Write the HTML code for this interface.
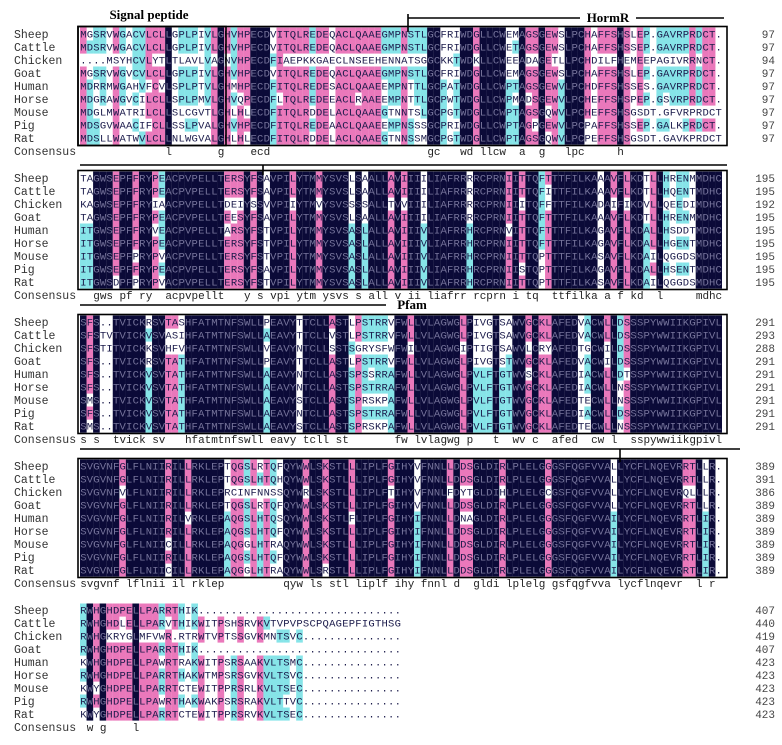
<!DOCTYPE html>
<html><head><meta charset="utf-8">
<style>
html,body{margin:0;padding:0;background:#fff;}
svg{display:block;}
</style></head>
<body>
<svg id="fig" width="782" height="745" xmlns="http://www.w3.org/2000/svg"></svg>
<script>
const species = ["Sheep","Cattle","Chicken","Goat","Human","Horse","Mouse","Pig","Rat"];
const block1 = [
"MGSRVWGACVLCLLGPLPIVLGHVHPECDVITQLREDEQACLQAAEGMPNSTLGCFRIWDGLLCWEMAGSGEWSLPCHAFFSHSLEP.GAVRPRDCT",
"MDSRVWGACVLCLLGPLPIVLGHVHPECDVITQLREDEQACLQAAEGMPNSTLGCFRIWDGLLCWETAGSGEWSLPCHAFFSHSSEP.GAVRPRDCT",
"....MSYHCVLYTLTLAVLVAGNVHPECDFIAEPKKGAECLNSEEHENNATSGGCKKTWDKLLCWEEADAGETLLPCHDILFHEMEEPAGIVRRNCT",
"MGSRVWGVCVLCLLGPLPIVLGHVHPECDVITQLREDEQACLQAAEGMPNSTLGCFRIWDGLLCWEMAGSGEWSLPCHAFFSHSLEP.GAVRPRDCT",
"MDRRMWGAHVFCVLSPLPTVLGHMHPECDFITQLREDESACLQAAEEMPNTTLGCPATWDGLLCWPTAGSGEWVLPCHDFFSHSSES.GAVRPRDCT",
"MDGRAWGVCILCLLSPLPMVLGHVQPECDFLTQLREDEEACLRAAEEMPNTTLGCPWTWDGLLCWPMADSGEWVLPCHEFFSHSPEP.GSVRPRDCT",
"MDGLMWATRILCLLSLCGVTLGHLHLECDFITQLRDDELACLQAAEGTNNTSLGCPGTWDGLLCWPTAGSGQWVLPCHEFFSHSGSDT.GFVRPRDCT",
"MDSGVWAACIFCLLSSLPVALGHVHPECDFITQLREDEAACLQAAEEMPNSSSGCPRIWDGLLCWPTAGPGEWVLPCPAFFSHSSEP.GALKPRDCT",
"MDSLLWATWVLCLLNLWGVALGHLHLECDFITQLRDDELACLQAAEGTNNSSMGCPGTWDGLLCWPTAGSGQWVLPCPEFFSHSGSDT.GAVKPRDCT"];

const base2 = "TAGWSEPFFRYPEACPVPELLTERSYFSAVPILYTMGYSVSLSAALLIVAIIILIAFRRLRCPRNYIHTQLFTTFILKAAAVFLKDATLFHRENMDHC";
const var2 = {0:"TTKTIIIII",1:"AAAATTTTT",5:"EEEEEEEED",8:"FFFFFFPFP",11:"PPIPVPPPP",12:"EEAEEEVEV",
 22:"EEDEAEEEE",23:"RREERRRRR",24:"SSISSSSSS",26:"FFSFFFFFF",28:"AAVATTTAT",32:"LLILLLLLL",36:"MMVMMMMMM",
 41:"LLSLAAAAA",43:"AASALLLLL",47:"AATAAAAAA",49:"IIVIIIIII",52:"IIIIVVVVV",59:"RRRRHHHHH",65:"IIIIVIIII",
 67:"TTITTTTST",70:"FFFFFFPPP",71:"TIFTTTTTT",79:"AADAGGSGS",81:"VVIVVVVVV",83:"LLILLLLLL",86:"TTVTAAAAA",
 87:"LLLLLLILI",89:"HHQHHHQHQ",90:"RQERSGGSG",91:"EEEEDEGEG",92:"NNDNDNDND",93:"MTIMTTSTS"};
const base3 = "SFS..TVICKRSVTASHFATMTNFSWLLPEAVYLTCLLASTLPSTRRVFWLLVLAGWGLPIVGTSAWVGCKLAFEDVACWDLDDSSPYWWIIKGPIVL";
const var3 = {1:"FFFFFFMFM",3:".TT......",4:".VI......",10:"RVKRVVVVV",13:"TAHTTTTTT",14:"ASFAAAAAA",15:"SIVTTTTTT",
 28:"PAVPAAAAA",33:"TTNTNNSNS",38:"AVSAAAAAA",41:"LLSLSSSSS",42:"PPGPPPPPP",43:"SSRSSSRSR",44:"TTYTSTSTS",
 45:"RRSRRRKRK",46:"RRFRRRPRP",47:"VVWVAAAAA",50:"LLILLLLLL",58:"LLILLLLLL",60:"IITIVVVVV",61:"VVIVLLLLL",
 62:"GGGGFFFFF",64:"SSSSGGGGG",65:"AAATTTTTT",68:"GGLGSGGGG",70:"KKRKKKKKK",71:"LLYLLLLLL",76:"VVTVIITIT",
 77:"AAGAAAEAE",80:"LLIILLLLL",82:"DDDDDNNDN",83:"SSSSTSSSS"};
const base4 = "SVGVNFGLFLNIIRILLRKLEPTQGSLRTQFQYWRLSKSTLLLIPLFGIHYVFNNLPDSAGLDIRLPLELGLGSFQGFVVALLYCFLNQEVRTELRR.";
const var4 = {6:"GGVGGGGGG",13:"RRRRRRCRC",16:"LLLLVLLLL",21:"PPPPPPPPP",22:"TTRTAAAAA",23:"QQCQQQQQQ",24:"GGIGGGGGG",25:"SSNSSSGSG",
 26:"LLFLLLLLL",27:"RHNRHHHHH",28:"TTNTTTTTT",29:"QQSQQQRQR",30:"FHSFSFAFA",34:"WWRWWWWWW",37:"KKKKKKKKR",
 41:"LLLLFLLLL",48:"IIIIIIIII",47:"GGTGGGGGG",51:"VVVVIIIII",
 56:"LLFLLLLLL",58:"DDYDNDDDD",59:"SSTSASSSS",64:"RRHRRRRRR",71:"GGCGGGGGG",81:"LLLLIIIII",92:"RRQRRRRRR",
 93:"TTLTTTTTT",95:"LLLLIIIII"};
const block5 = [
"RWHGHDPELLPARRTHIK",
"RWHGHDLELLPARVTHIKWITPSHSRVKVTVPVPSCPQAGEPFIGTHSG",
"RWHGKRYGLMFVWR.RTRWTVPTSSGVKMNTSVC",
"RWHGHDPELLPARRTHIK",
"KWHGHDPELLPAWRTRAKWITPSRSAAKVLTSMC",
"RWHGHDPELLPARRTHAKWTMPSRSGVKVLTSVC",
"KWYGHDPELLPARRTCTEWITPPRSRLKVLTSEC",
"RWHGHDPELLPAWRTHAKWAKPSRSRAKVLTTVC",
"KWYGHDPELLPARRTCTEWITPPRSRVKVLTSEC"];
const ends1 = [97,97,94,97,97,97,97,97,97];
const ends2 = [195,195,192,195,195,195,195,195,195];
const ends3 = [291,293,288,291,291,291,291,291,291];
const ends4 = [389,391,386,389,389,389,389,389,389];
const ends5 = [407,440,419,407,423,423,423,423,423];

function build(base, v){
  return species.map((s, i) => {
    const a = base.split("");
    for (const k in v) a[+k] = v[k][i];
    return a.join("");
  });
}
const blocks = [block1, build(base2,var2), build(base3,var3), build(base4,var4), block5];
const ends = [ends1,ends2,ends3,ends4,ends5];
const NS = "http://www.w3.org/2000/svg";
const svg = document.getElementById("fig");
const X0 = 80, CW = 6.55, RH = 13, Y0 = 34, BP = 144;
const DARK = "#0b0a38", PINK = "#ea78bb", CYAN = "#86e4e8";
function mk(tag, attrs){const e=document.createElementNS(NS,tag);for(const k in attrs)e.setAttribute(k,attrs[k]);svg.appendChild(e);return e;}

blocks.forEach((blk, b) => {
  const ncol = b === 4 ? 49 : 98;
  const rows = blk.map(s => (s + ".".repeat(120)).slice(0, ncol));
  const by = Y0 + b * BP;
  const cols = [];
  for (let c = 0; c < ncol; c++) {
    const cnt = {};
    rows.forEach(r => { const ch = r[c]; if (ch !== ".") cnt[ch] = (cnt[ch]||0)+1; });
    let best = ".", n = 0;
    for (const k in cnt) if (cnt[k] > n) { n = cnt[k]; best = k; }
    cols.push({best, n});
  }
  rows.forEach((r, i) => {
    const cy = by + i * RH;
    const nm = mk("text", {x:14, y:cy+4, "font-family":"Liberation Mono, monospace", "font-size":"11.5", fill:"#333"});
    
    
    nm.textContent = species[i];
    const t = mk("text", {y:cy+3.5, "font-family":"Liberation Mono, monospace", "font-size":"10.5"});
    
    
    for (let c = 0; c < ncol; c++) {
      const ch = r[c];
      const col = cols[c];
      let bg = null, fg = "#1a1a4a";
      if (ch !== "." && ch === col.best) {
        if (col.n === 9) { bg = DARK; fg = "#77759c"; }
        else if (col.n >= 7) bg = PINK;
        else if (col.n >= 5) bg = CYAN;
      }
      const x = X0 + c * CW;
      if (bg) {
        const rc = mk("rect", {x:x, y:cy-6.5, width:CW+0.1, height:RH+0.1, fill:bg});
        
        
        svg.insertBefore(rc, t);
      }
      const ts = document.createElementNS(NS, "tspan");
      ts.setAttribute("x", x + 0.2);
      ts.setAttribute("fill", fg);
      ts.textContent = ch;
      t.appendChild(ts);
    }
    const num = mk("text", {x:775, y:cy+4, "text-anchor":"end", "font-family":"Liberation Mono, monospace", "font-size":"11", fill:"#444"});
    
    
    num.textContent = ends[b][i];
  });
  const cy = by + 9 * RH;
  const cl = mk("text", {x:14, y:cy+4, "font-family":"Liberation Mono, monospace", "font-size":"11.5", fill:"#333"});
  
  
  cl.textContent = "Consensus";
  const ct = mk("text", {y:cy+4, "font-family":"Liberation Mono, monospace", "font-size":"11", fill:"#222"});
  
  
  for (let c = 0; c < ncol; c++) {
    if (cols[c].n === 9) {
      const ts = document.createElementNS(NS, "tspan");
      ts.setAttribute("x", X0 + c * CW + 0.2);
      ts.textContent = cols[c].best.toLowerCase();
      ct.appendChild(ts);
    }
  }
  if (b < 4) {
    const fr = mk("rect", {x:78, y:by-7.5, width:649, height:9*RH+2, fill:"none", stroke:"#000", "stroke-width":"1.6"});
    
    
  }
});

function line(x1,y1,x2,y2,name,w){const l=mk("line",{x1,y1,x2,y2,stroke:"#000","stroke-width":w||1.6});return l;}
function label(x,y,txt,name){const t=mk("text",{x,y,"text-anchor":"middle","font-family":"Liberation Serif, serif","font-size":"13","font-weight":"bold",fill:"#000"});t.textContent=txt;return t;}

const sp = mk("rect",{x:78,y:26.5,width:148,height:9*RH+2,fill:"none",stroke:"#000","stroke-width":"1.6"});


label(149,19,"Signal peptide","signal-peptide-label");
line(408,18,580,18,"hormr-line-left");
line(636,18,724,18,"hormr-line-right");
line(408,14,408,32,"hormr-tick");
label(608,22,"HormR","hormr-label");
line(80,165,727,165,"hormr-continuation-line");
line(263,165,263,175,"block2-divider-tick");
line(80,305,386,305,"pfam-line-left");
label(412,309,"Pfam","pfam-label");
line(80,449,740,449,"pfam-continuation-line");
line(620,449,620,462,"block4-divider-tick");
</script>
</body></html>
